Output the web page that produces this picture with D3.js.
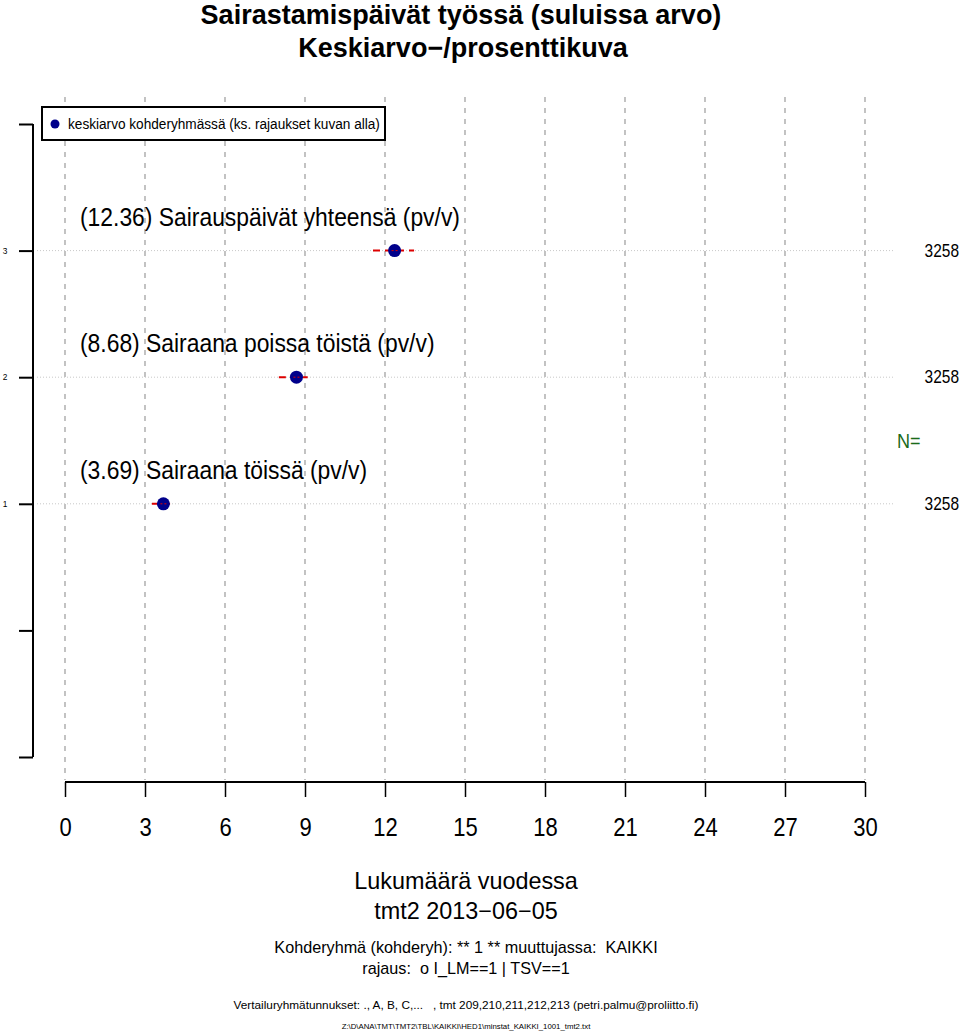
<!DOCTYPE html>
<html><head><meta charset="utf-8">
<script src="https://cdn.jsdelivr.net/npm/d3@7"></script>
<style>body{margin:0;background:#fff}svg{display:block}text{font-family:"Liberation Sans",Arial,sans-serif}</style>
</head><body><svg id="c" width="960" height="1031"></svg>
<script>
const labels = ["Sairaana töissä (pv/v)", "Sairaana poissa töistä (pv/v)", "Sairauspäivät yhteensä (pv/v)"];
const positions = [1, 2, 3];
const means = [3.69, 8.68, 12.36];
const lowers = [3.26, 8.02, 11.55];
const uppers = [3.94, 9.10, 13.09];
const counts = [3258, 3258, 3258];
const xTicks = [0, 3, 6, 9, 12, 15, 18, 21, 24, 27, 30];
const yTicks = [-1, 0, 1, 2, 3, 4];
const yLabels = [1, 2, 3];

const SX = 0.88; // slight horizontal condensing of the reference's text
const svg = d3.select("#c");
const x = d3.scaleLinear().domain([0, 30]).range([65, 865]);
const y = d3.scaleLinear().domain([-1, 4]).range([757, 124]);

function ctext(g, tx, ty, size, anchor) {
  return g.append("text").attr("transform", `translate(${tx},${ty}) scale(${SX},1)`)
    .attr("font-size", size).attr("text-anchor", anchor || "start");
}

// titles
svg.append("text").attr("x", 461).attr("y", 24).attr("text-anchor", "middle")
  .attr("font-size", 27).attr("font-weight", "bold").text("Sairastamispäivät työssä (suluissa arvo)");
svg.append("text").attr("x", 463).attr("y", 57).attr("text-anchor", "middle")
  .attr("font-size", 27).attr("font-weight", "bold").text("Keskiarvo\u2212/prosenttikuva");

// vertical grid
svg.append("g").selectAll("line").data(xTicks).join("line")
  .attr("x1", d => x(d)).attr("x2", d => x(d)).attr("y1", 97).attr("y2", 780)
  .attr("stroke", "#b4b4b4").attr("stroke-width", 1.6).attr("stroke-dasharray", "5,6");

// horizontal dotted lines
svg.append("g").selectAll("line").data(positions).join("line")
  .attr("x1", 37).attr("x2", 895).attr("y1", d => y(d)).attr("y2", d => y(d))
  .attr("stroke", "#c8c8c8").attr("stroke-width", 1).attr("stroke-dasharray", "1,2");

// x axis
const xa = svg.append("g").attr("transform", "translate(0,782)")
  .call(d3.axisBottom(x).tickValues(xTicks).tickSize(15).tickPadding(20));
xa.select(".domain").attr("stroke", "#000").attr("stroke-width", 2).attr("d", `M${x(0)},0H${x(30)}`);
xa.selectAll(".tick line").attr("stroke", "#000").attr("stroke-width", 1.5);
xa.selectAll(".tick text").attr("font-size", 25).attr("font-family", "Liberation Sans, Arial, sans-serif")
  .attr("fill", "#000").attr("dy", "0.75em").attr("y", 35).attr("transform", `scale(${SX},1)`);

// y axis
const ya = svg.append("g").attr("transform", "translate(33,0)")
  .call(d3.axisLeft(y).tickValues(yTicks).tickSize(14).tickFormat(""));
ya.select(".domain").attr("stroke", "#000").attr("stroke-width", 2).attr("d", `M0,${y(4)}V${y(-1)}`);
ya.selectAll(".tick line").attr("stroke", "#000").attr("stroke-width", 2);
yLabels.forEach(d => ctext(svg, 5, y(d) + 3, 9.5, "middle").text(d));

// legend
svg.append("rect").attr("x", 42).attr("y", 107).attr("width", 343).attr("height", 33)
  .attr("fill", "#fff").attr("stroke", "#000").attr("stroke-width", 2);
svg.append("circle").attr("cx", 55).attr("cy", 124).attr("r", 4.5).attr("fill", "#00008B");
ctext(svg, 68, 129, 15.5).text("keskiarvo kohderyhmässä (ks. rajaukset kuvan alla)");

// item labels
positions.forEach((d, i) => ctext(svg, 80, y(d) - 25, 26).text(`(${means[i].toFixed(2)}) ${labels[i]}`));

// error ranges
svg.append("g").selectAll("line").data(positions).join("line")
  .attr("x1", (d, i) => x(lowers[i])).attr("x2", (d, i) => x(uppers[i]))
  .attr("y1", d => y(d)).attr("y2", d => y(d))
  .attr("stroke", "#DD0000").attr("stroke-width", 2).attr("stroke-dasharray", "7,5");

// points
svg.append("g").selectAll("circle").data(positions).join("circle")
  .attr("cx", (d, i) => x(means[i])).attr("cy", d => y(d)).attr("r", 6.5)
  .attr("fill", "#00008B");
svg.append("g").selectAll("line").data(positions).join("line")
  .attr("x1", (d, i) => x(means[i]) - 3).attr("x2", (d, i) => x(means[i]) + 3)
  .attr("y1", d => y(d)).attr("y2", d => y(d))
  .attr("stroke", "#DD0000").attr("stroke-width", 1).attr("stroke-dasharray", "2,2");

// N values
ctext(svg, 897, 448, 20.5).attr("fill", "#1a6b1a").text("N=");
positions.forEach((d, i) => ctext(svg, 959, y(d) + 6, 17.6, "end").text(counts[i]));

// bottom texts
const bt = [
  ["Lukumäärä vuodessa", 889, 23.4],
  ["tmt2 2013\u221206\u221205", 919, 23.4],
  ["Kohderyhmä (kohderyh): ** 1 ** muuttujassa:  KAIKKI", 953, 16.2],
  ["rajaus:  o I_LM==1 | TSV==1", 974, 16.2],
  ["Vertailuryhmätunnukset: ., A, B, C,...   , tmt 209,210,211,212,213 (petri.palmu@proliitto.fi)", 1009, 11.8],
  ["Z:\\D\\ANA\\TMT\\TMT2\\TBL\\KAIKKI\\HED1\\minstat_KAIKKI_1001_tmt2.txt", 1029, 7.8]
];
svg.append("g").selectAll("text").data(bt).join("text")
  .attr("x", 466).attr("y", d => d[1]).attr("font-size", d => d[2]).attr("text-anchor", "middle")
  .attr("xml:space", "preserve").style("white-space", "pre").text(d => d[0]);
</script></body></html>
